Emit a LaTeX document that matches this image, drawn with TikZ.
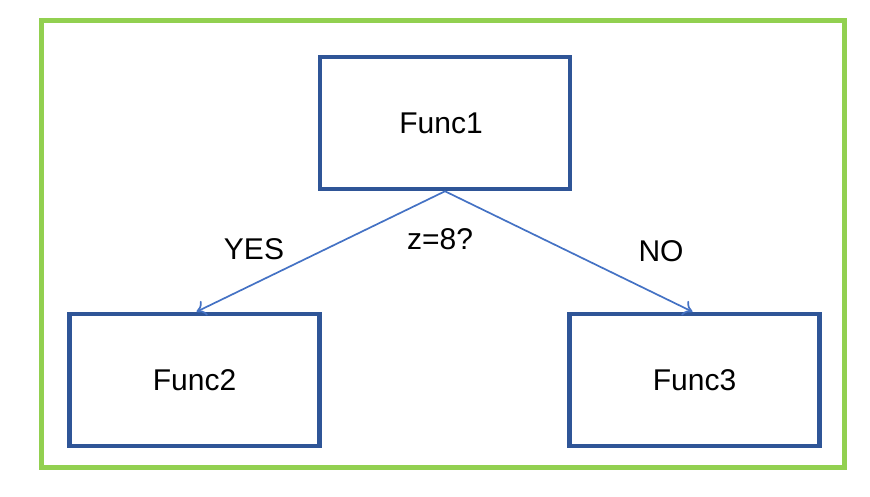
\documentclass[tikz,border=0pt]{standalone}
\usepackage{fontspec}
\setmainfont{Liberation Sans}
\usetikzlibrary{arrows.meta}

\definecolor{boxblue}{HTML}{2F5597}
\definecolor{lineblue}{HTML}{4472C4}
\definecolor{framegreen}{HTML}{92D050}

\tikzset{
  funcbox/.style={draw=boxblue, line width=4.5pt, minimum width=250pt, minimum height=132pt, inner sep=0pt, font=\fontsize{30}{35}\selectfont},
  branch/.style={draw=lineblue, line width=1.7pt, -{To[length=9pt,width=16pt,line width=1.7pt]}},
  txt/.style={font=\fontsize{30}{35}\selectfont}
}

\begin{document}
\begin{tikzpicture}[x=1pt,y=-1pt]

\useasboundingbox (0,0) rectangle (870,496);

% outer frame
\draw[framegreen, line width=5pt] (41.5,20.5) rectangle (844.5,467.5);

% boxes
\node[funcbox] (f1) at (445,123) {\hspace*{-8pt}Func1};
\node[funcbox] (f2) at (194.5,380) {Func2};
\node[funcbox] (f3) at (694.5,380) {Func3};

% branches
\coordinate (top) at (f1.south);
\draw[branch] (top) -- ([xshift=2pt]f2.north);
\draw[branch] (top) -- ([xshift=-2pt]f3.north);

\node[txt] (yes) at (254,249) {YES};
\node[txt] (cond) at (440,239) {z=8?};
\node[txt] (no) at (661,251) {NO};

\end{tikzpicture}
\end{document}
